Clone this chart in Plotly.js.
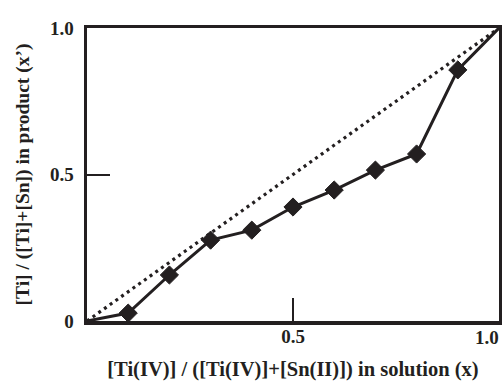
<!DOCTYPE html>
<html>
<head>
<meta charset="utf-8">
<script src="https://cdn.plot.ly/plotly-3.0.1.min.js"></script>
<style>html,body{margin:0;padding:0;background:#fff;}#chart{width:502px;height:382px;}</style>
</head>
<body>
<div id="chart"></div>
<script>
// Data
var xSolution = [0, 0.1, 0.2, 0.3, 0.4, 0.5, 0.6, 0.7, 0.8, 0.9, 1.0];
var xProduct  = [0, 0.027, 0.157, 0.276, 0.31, 0.389, 0.447, 0.515, 0.57, 0.857, 1.0];
var markerShown = [false, true, true, true, true, true, true, true, true, true, false];
var idealX = [0, 1];
var idealY = [0, 1];
var xTickVals = [0.5];
var xTickText = ['0.5'];
var xEndLabel = '1.0';
var yTickVals = [0, 0.5, 1.0];
var yTickText = ['0', '0.5', '1.0'];

var ink = '#231f20';
var serif = 'Liberation Serif, Times New Roman, serif';

var traces = [
  {
    x: idealX, y: idealY, mode: 'lines', type: 'scatter',
    line: {color: ink, width: 3.2, dash: '3px,4px'},
    hoverinfo: 'skip', cliponaxis: false
  },
  {
    x: xSolution, y: xProduct, mode: 'lines+markers', type: 'scatter',
    line: {color: ink, width: 3},
    marker: {symbol: 'diamond', color: ink, opacity: 1,
             line: {color: ink, width: 1},
             size: markerShown.map(function(s){return s ? 14 : 0;})},
    cliponaxis: false
  }
];

var tickFont = {family: serif, size: 19, color: ink, weight: 'bold'};

var layout = {
  width: 502, height: 382,
  margin: {l: 87, r: 3, t: 28, b: 61},
  paper_bgcolor: '#fff', plot_bgcolor: '#fff',
  showlegend: false,
  font: {family: serif, color: ink, size: 16},
  xaxis: {
    range: [0, 1], showgrid: false, zeroline: false,
    showline: true, mirror: true, linecolor: ink, linewidth: 3.5,
    tickmode: 'array', tickvals: xTickVals, ticktext: xTickText,
    ticks: 'inside', ticklen: 23, tickwidth: 2, tickcolor: ink,
    ticklabelstandoff: -4,
    tickfont: tickFont,
    title: {text: '[Ti(IV)] / ([Ti(IV)]+[Sn(II)]) in solution (x)',
            font: {family: serif, size: 20.5, color: ink, weight: 'bold'}, standoff: 16}
  },
  yaxis: {
    range: [0, 1], showgrid: false, zeroline: false,
    showline: true, mirror: true, linecolor: ink, linewidth: 3.5,
    tickmode: 'array', tickvals: yTickVals, ticktext: yTickText,
    ticks: 'inside', ticklen: 23, tickwidth: 2, tickcolor: ink,
    ticklabelstandoff: 6, ticklabeloverflow: 'allow',
    tickfont: tickFont,
    title: {text: '[Ti] / ([Ti]+[Sn]) in product (x\u2019)',
            font: {family: serif, size: 19.5, color: ink, weight: 'bold'}, standoff: 16}
  },
  annotations: [
    {x: 1, y: 0, xref: 'x', yref: 'y', text: xEndLabel, showarrow: false,
     xanchor: 'right', yanchor: 'top', yshift: -4, xshift: 2, font: tickFont}
  ]
};

Plotly.newPlot('chart', traces, layout, {displayModeBar: false, staticPlot: true});
</script>
</body>
</html>
